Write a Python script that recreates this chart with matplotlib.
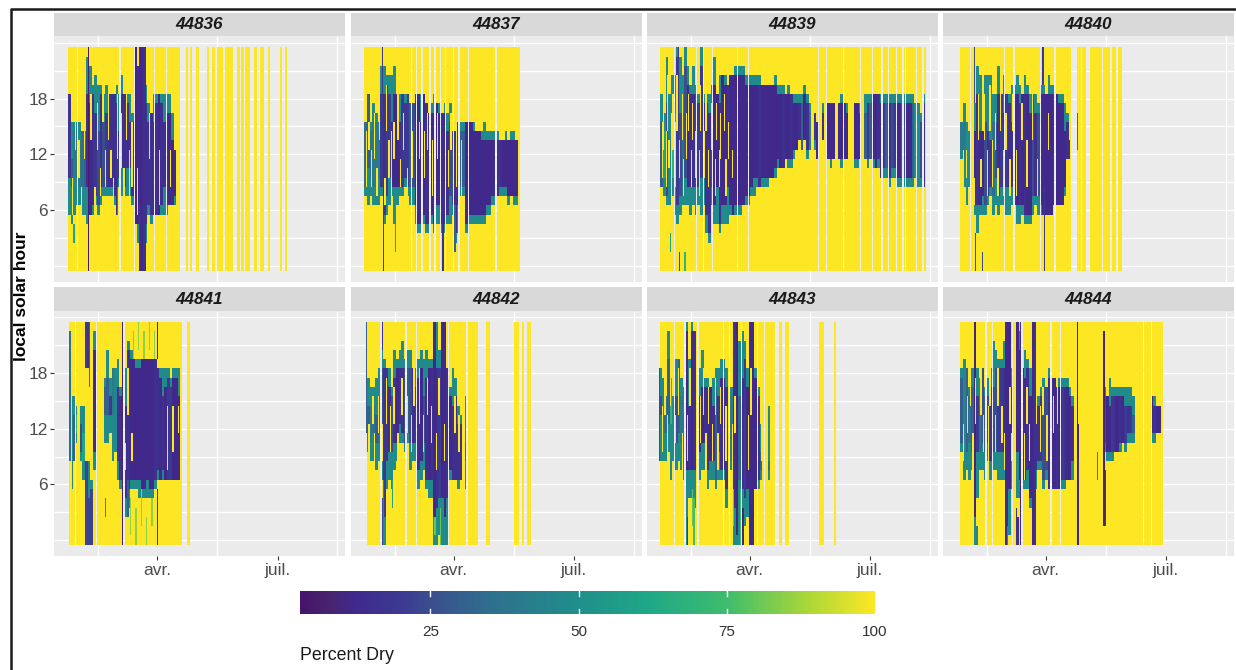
#!/usr/bin/env python3
"""Percent dry by local solar hour and date, one panel per sensor."""

from datetime import date

import matplotlib
matplotlib.use("Agg")
import matplotlib.dates as mdates
import matplotlib.pyplot as plt
import numpy as np
from matplotlib.cm import ScalarMappable
from matplotlib.colors import LinearSegmentedColormap, Normalize
from matplotlib.lines import Line2D

plt.rcParams["font.family"] = ["Liberation Sans", "DejaVu Sans"]

# days are counted from 1 Jan 2022, hours are whole cells 0-23
sensors = ["44836", "44837", "44839", "44840", "44841", "44842", "44843", "44844"]
month_days = [90, 181]
month_labels = ["avr.", "juil."]
hour_ticks = [6, 12, 18]
bar_ticks = [25, 50, 75, 100]

# (first, last) day of each run of recorded days
yellow_44836 = [(23, 107), (112, 113), (115, 116), (120, 121), (128, 129), (132, 133), (136, 139),
                (142, 147), (151, 152), (154, 155), (157, 160), (164, 165), (168, 170), (174, 175),
                (183, 184), (187, 188)]
yellow_44837 = [(23, 140)]
yellow_44839 = [(23, 223)]
yellow_44840 = [(26, 109), (114, 116), (118, 120), (124, 132), (134, 138), (141, 143), (145, 147)]
yellow_44841 = [(24, 108), (113, 114)]
yellow_44842 = [(25, 108), (115, 117), (136, 137), (138, 139), (142, 143), (146, 148)]
yellow_44843 = [(23, 109), (113, 114), (117, 119), (143, 146), (154, 155)]
yellow_44844 = [(26, 178)]

# days with no record inside those runs
gaps_44836 = [30, 62, 73, 88, 97]
gaps_44837 = [58, 62, 66, 72, 76, 80, 84, 90, 94, 101, 122]
gaps_44839 = [33, 50, 55, 62, 81, 89, 142, 148, 161, 174, 183, 190, 195, 201, 206, 208, 216, 221]
gaps_44840 = [33, 59, 66, 86, 97]
gaps_44841 = [28, 44, 65]
gaps_44842 = [35, 54, 62, 86, 100]
gaps_44843 = [33, 41, 51, 70, 75, 84, 96, 101]
gaps_44844 = [45, 50, 65, 72, 94, 101, 164, 170]

# two-day blocks from the first day: (wet low, wet high, core low, core high, core percent)
first_44836 = 23
band_44836 = [
    (6, 18, 10, 18, 18), (5, 15, 9, 11, 30), (6, 15, 10, 14, 40), (7, 15, 10, 14, 40), (7, 15, 9, 13, 40),
    (6, 14, 9, 14, 35), (6, 14, 9, 13, 30), (5, 22, 9, 18, 15), (6, 21, 6, 17, 12), (6, 19, 7, 18, 15),
    (7, 20, 8, 16, 18), (6, 19, 7, 14, 25), (7, 19, 9, 18, 15), (8, 18, 9, 15, 25), (8, 19, 9, 16, 20),
    (8, 18, 9, 18, 15), (8, 18, 9, 18, 15), (7, 18, 8, 18, 15), (6, 19, 9, 17, 18), (9, 18, 10, 14, 20),
    (8, 20, 11, 18, 15), (8, 18, 9, 18, 15), (8, 18, 11, 17, 15), (8, 18, 11, 15, 15), (7, 16, 8, 15, 15),
    (5, 22, 7, 21, 15), (3, 21, 5, 21, 12), (0, 23, 0, 23, 12), (0, 23, 0, 23, 12), (3, 19, 5, 17, 15),
    (6, 17, 7, 15, 15), (5, 16, 6, 16, 15), (6, 18, 6, 15, 15), (6, 18, 6, 17, 15), (6, 18, 6, 18, 12),
    (6, 18, 7, 17, 15), (6, 18, 9, 15, 15), (6, 18, 7, 16, 15), (7, 18, 7, 16, 12), (7, 16, 7, 13, 12),
    (7, 12, 8, 12, 12), None,
]
first_44837 = 23
band_44837 = [
    (8, 15, 9, 15, 35), (7, 18, 11, 18, 30), (8, 15, 10, 14, 35), (7, 17, 9, 15, 40), (7, 16, 9, 15, 40),
    (7, 15, 10, 14, 40), (8, 21, 9, 18, 20), (5, 21, 6, 18, 15), (6, 20, 8, 19, 20), (7, 20, 10, 18, 20),
    (8, 20, 9, 15, 15), (5, 21, 9, 18, 12), (7, 18, 9, 18, 12), (8, 18, 9, 15, 15), (8, 18, 9, 18, 20),
    (9, 18, 10, 17, 20), (8, 18, 9, 18, 20), (7, 16, 9, 17, 30), (7, 17, 9, 17, 25), (5, 18, 7, 18, 12),
    (4, 18, 5, 18, 12), (4, 18, 5, 15, 15), (5, 18, 6, 18, 12), (4, 17, 5, 17, 15), (4, 16, 5, 16, 15),
    (5, 17, 6, 16, 12), (4, 18, 5, 16, 12), (5, 17, 7, 17, 12), (5, 17, 7, 16, 12), (4, 16, 5, 16, 15),
    (4, 17, 5, 16, 12), (5, 16, 6, 14, 15), (5, 17, 8, 15, 25), (6, 14, 7, 14, 25), (3, 14, 4, 14, 15),
    (4, 15, 7, 15, 15), (8, 15, 9, 14, 30), (8, 15, 9, 14, 30), (4, 15, 5, 15, 12), (5, 15, 6, 15, 12),
    (5, 15, 6, 15, 12), (5, 15, 6, 14, 12), (5, 14, 6, 14, 12), (5, 14, 6, 14, 12), (5, 14, 6, 13, 12),
    (5, 15, 6, 13, 12), (6, 14, 7, 13, 12), (6, 14, 7, 13, 12), (7, 14, 8, 13, 12), (7, 14, 8, 13, 15),
    (8, 14, 8, 13, 15), (8, 13, 9, 13, 15), (8, 13, 9, 13, 12), (8, 14, 9, 13, 12), (7, 13, 8, 13, 12),
    (8, 14, 8, 13, 12), (7, 14, 8, 13, 12), (7, 13, 8, 13, 12),
]
first_44839 = 23
band_44839 = [
    (9, 18, 9, 15, 30), (8, 16, 10, 14, 60), (7, 22, 8, 17, 25), (7, 18, 9, 14, 45), (8, 20, 10, 13, 70),
    (6, 20, 8, 16, 60), (5, 23, 7, 22, 20), (6, 22, 8, 16, 25), (7, 20, 8, 16, 35), (7, 23, 10, 21, 25),
    (7, 21, 9, 19, 12), (6, 19, 9, 18, 15), (7, 21, 9, 18, 15), (6, 19, 9, 18, 25), (7, 18, 9, 17, 20),
    (6, 23, 10, 21, 20), (7, 18, 10, 17, 15), (4, 18, 6, 17, 15), (3, 18, 4, 16, 15), (7, 19, 9, 17, 25),
    (5, 22, 7, 19, 12), (5, 18, 9, 18, 12), (4, 20, 5, 17, 15), (5, 20, 7, 20, 12), (5, 20, 7, 19, 12),
    (5, 18, 9, 19, 15), (6, 20, 7, 20, 12), (6, 20, 6, 20, 12), (6, 21, 7, 20, 12), (6, 21, 7, 20, 12),
    (6, 21, 7, 20, 12), (7, 21, 7, 20, 12), (7, 20, 8, 19, 12), (7, 20, 8, 19, 12), (8, 20, 9, 19, 12),
    (8, 20, 10, 19, 12), (9, 20, 10, 19, 12), (9, 20, 9, 19, 15), (9, 19, 10, 19, 12), (9, 19, 10, 19, 12),
    (9, 19, 10, 19, 12), (10, 19, 10, 19, 12), (10, 19, 10, 19, 12), (10, 20, 11, 19, 12), (11, 19, 12, 18, 12),
    (11, 19, 11, 18, 12), (11, 19, 11, 18, 15), (12, 18, 12, 18, 12), (11, 19, 12, 18, 12), (11, 18, 12, 18, 15),
    (12, 18, 13, 17, 12), (13, 18, 13, 17, 12), (14, 18, 14, 17, 15), (13, 18, 13, 17, 30), (14, 19, 14, 18, 12),
    (12, 18, 13, 17, 15), (13, 17, 13, 16, 40), None, (13, 16, 14, 16, 20), (12, 15, 12, 15, 12),
    None, (14, 17, 14, 16, 15), None, (12, 17, 12, 17, 12), (11, 17, 12, 17, 12),
    (12, 17, 12, 17, 12), None, (12, 17, 12, 17, 12), (11, 18, 12, 17, 12), (12, 17, 12, 17, 15),
    (12, 17, 12, 16, 12), None, None, (11, 17, 12, 17, 12), (11, 17, 12, 17, 12),
    (12, 17, 12, 16, 15), None, (12, 18, 12, 16, 30), (11, 18, 12, 17, 20), (12, 18, 12, 17, 30),
    (11, 18, 12, 18, 12), (11, 18, 11, 18, 12), (11, 18, 12, 18, 15), (10, 18, 10, 17, 15), (10, 18, 11, 17, 20),
    (10, 18, 11, 17, 30), (9, 18, 10, 17, 15), (10, 18, 11, 17, 25), (10, 18, 11, 17, 20), (9, 18, 10, 17, 12),
    (9, 18, 10, 17, 12), (9, 18, 10, 17, 30), (9, 18, 10, 17, 25), (9, 18, 10, 17, 12), (9, 18, 10, 17, 12),
    (9, 18, 10, 17, 30), (10, 17, 13, 16, 50), (9, 17, 10, 15, 50), (9, 16, 10, 15, 25), (9, 18, 9, 17, 20),
]
first_44840 = 26
band_44840 = [
    (12, 15, 13, 15, 40), (9, 17, 12, 15, 40), (7, 15, 12, 14, 50), (9, 14, 14, 13, 50), None,
    (6, 17, 7, 14, 12), (4, 21, 7, 18, 15), (6, 20, 7, 14, 12), (6, 14, 8, 14, 12), (6, 20, 7, 15, 25),
    (7, 20, 8, 14, 15), (8, 20, 9, 13, 20), (6, 18, 8, 15, 35), (7, 18, 10, 15, 25), (6, 21, 8, 18, 15),
    (7, 18, 9, 18, 20), (7, 20, 9, 16, 15), (6, 18, 9, 18, 20), (6, 18, 9, 17, 15), (7, 19, 9, 15, 15),
    (7, 19, 7, 18, 15), (5, 20, 7, 18, 12), (5, 19, 7, 17, 15), (6, 18, 7, 18, 12), (5, 20, 6, 18, 15),
    (5, 19, 6, 18, 12), (5, 18, 6, 16, 12), (6, 18, 8, 18, 25), (7, 18, 8, 16, 15), (6, 17, 8, 16, 25),
    (6, 19, 7, 18, 15), (6, 19, 6, 18, 12), (6, 18, 6, 18, 12), (6, 20, 6, 18, 12), (6, 19, 6, 18, 12),
    (7, 19, 7, 18, 15), (7, 18, 7, 18, 12), (7, 18, 7, 17, 12), (7, 18, 7, 17, 12), (8, 17, 9, 14, 12),
    (12, 16, 12, 15, 15), None,
]
first_44841 = 24
band_44841 = [
    None, (9, 15, 11, 14, 50), (11, 14, 12, 13, 70), None, (9, 14, 10, 12, 25),
    (7, 14, 9, 11, 60), (0, 8, 0, 8, 22), (0, 8, 0, 4, 22), (0, 6, 0, 5, 22), (8, 22, 10, 20, 12),
    None, None, None, (11, 17, 14, 16, 30), (11, 20, 14, 17, 30),
    (12, 17, 14, 15, 20), (9, 18, 14, 18, 40), (10, 18, 12, 17, 45), (7, 19, 9, 16, 18), (6, 16, 7, 15, 15),
    (0, 23, 0, 23, 10), (3, 18, 5, 14, 15), (4, 21, 6, 20, 15), (6, 20, 7, 19, 12), (6, 19, 7, 19, 12),
    (6, 19, 7, 18, 12), (5, 19, 7, 18, 12), (5, 19, 6, 19, 12), (5, 19, 6, 19, 12), (5, 19, 7, 19, 12),
    (5, 19, 6, 19, 12), (5, 19, 6, 19, 12), (6, 19, 7, 19, 15), (7, 18, 8, 18, 15), (7, 18, 7, 17, 12),
    (7, 18, 8, 15, 15), (7, 18, 7, 16, 12), (7, 18, 7, 17, 20), (7, 17, 7, 16, 20), (7, 18, 7, 17, 12),
    (7, 18, 7, 17, 12), (7, 18, 7, 15, 12),
]
first_44842 = 25
band_44842 = [
    (10, 17, 12, 14, 30), (9, 16, 11, 14, 40), (9, 16, 12, 14, 35), (8, 17, 11, 13, 30), (9, 18, 11, 15, 35),
    (7, 23, 10, 18, 25), (0, 19, 7, 18, 18), (6, 18, 9, 18, 18), (7, 18, 10, 16, 15), (6, 16, 10, 15, 25),
    (8, 20, 11, 17, 15), (9, 19, 11, 18, 12), (11, 20, 13, 18, 15), (11, 21, 12, 18, 15), (10, 19, 11, 18, 25),
    (11, 20, 12, 18, 30), (8, 20, 11, 18, 25), (9, 18, 11, 18, 15), (9, 18, 11, 16, 20), (6, 19, 8, 17, 15),
    (7, 20, 9, 18, 12), (8, 19, 11, 15, 25), (6, 20, 7, 17, 15), (5, 19, 7, 18, 12), (5, 19, 7, 18, 15),
    (0, 23, 3, 23, 12), (0, 23, 4, 18, 15), (1, 20, 5, 18, 20), (0, 23, 5, 23, 12), (0, 23, 3, 23, 12),
    (0, 18, 5, 18, 15), (7, 16, 8, 15, 12), (7, 18, 7, 14, 15), (7, 17, 7, 15, 15), (6, 14, 7, 12, 15),
    (7, 13, 7, 12, 15), None, (6, 15, 9, 10, 30),
]
first_44843 = 22
band_44843 = [
    (9, 18, 14, 15, 25), (9, 17, 12, 17, 45), (9, 15, 12, 15, 35), (10, 22, 13, 19, 30), (7, 17, 13, 17, 70),
    (9, 15, 16, 15, 70), (8, 19, 11, 15, 25), (9, 19, 12, 19, 30), (8, 17, 11, 15, 40), (7, 16, 10, 13, 40),
    (0, 23, 8, 22, 12), (5, 19, 8, 14, 15), (5, 23, 8, 22, 12), (4, 22, 8, 22, 15), None,
    (7, 18, 10, 15, 15), (8, 20, 11, 16, 12), (8, 17, 11, 16, 15), (6, 17, 8, 16, 15), (7, 16, 9, 16, 12),
    (7, 17, 9, 14, 15), (6, 18, 7, 16, 30), (7, 18, 10, 15, 20), (7, 19, 8, 17, 15), (7, 19, 8, 17, 15),
    (4, 18, 6, 16, 15), None, (8, 16, 9, 15, 40), (0, 23, 4, 23, 15), (0, 23, 1, 23, 10),
    (0, 21, 7, 15, 30), (2, 22, 6, 17, 15), (2, 21, 5, 19, 20), (3, 18, 6, 16, 12), (0, 23, 0, 23, 12),
    (0, 23, 0, 23, 12), (6, 18, 6, 17, 12), (6, 16, 7, 15, 15), (7, 12, 8, 9, 30), None,
    None, (7, 14, 8, 8, 35), None,
]
first_44844 = 26
band_44844 = [
    (10, 18, 11, 17, 30), (7, 19, 11, 18, 45), (8, 17, 10, 18, 30), (7, 16, 11, 15, 35), (8, 18, 10, 16, 30),
    (0, 22, 3, 23, 10), (5, 18, 10, 15, 20), (8, 17, 10, 14, 35), (8, 18, 11, 18, 25), (7, 16, 10, 15, 30),
    (9, 17, 11, 15, 25), (7, 18, 9, 16, 20), (8, 21, 10, 16, 25), (8, 20, 10, 18, 25), (7, 19, 10, 18, 20),
    (7, 19, 10, 18, 20), (7, 21, 10, 18, 15), (0, 23, 2, 23, 12), (1, 21, 6, 23, 12), (6, 18, 10, 16, 15),
    None, (5, 23, 10, 23, 12), (5, 22, 7, 20, 12), (6, 18, 7, 18, 15), (6, 20, 7, 17, 12),
    (6, 19, 8, 18, 15), (4, 18, 5, 15, 12), (0, 23, 0, 23, 12), (6, 16, 8, 14, 15), (8, 15, 9, 14, 15),
    (8, 16, 9, 15, 20), (6, 17, 7, 16, 25), (7, 16, 8, 16, 25), (6, 18, 6, 17, 15), (6, 17, 6, 17, 15),
    (6, 17, 6, 17, 12), (6, 16, 6, 16, 15), (6, 17, 6, 16, 12), (6, 17, 7, 16, 20), (6, 17, 7, 16, 15),
    (7, 17, 7, 16, 12), (7, 16, 7, 15, 12), (7, 15, 9, 14, 15), None, (0, 12, 0, 12, 12),
    None, None, None, None, None,
    None, None, None, None, (10, 16, 11, 15, 25),
    (9, 15, 10, 15, 12), (9, 17, 10, 14, 12), (9, 16, 10, 15, 20), (10, 16, 10, 15, 15), (10, 16, 10, 15, 12),
    (10, 16, 11, 15, 15), (11, 16, 11, 15, 12), (10, 16, 11, 14, 20), (11, 16, 12, 14, 15), (11, 16, 12, 14, 20),
    (11, 15, 12, 13, 30), None, None, None, None,
    None, None, (11, 14, 12, 15, 12), (11, 15, 12, 14, 15), (12, 14, 12, 14, 12),
    (12, 14, 12, 14, 12),
]

# dry slits cut through the bands: (day, low hour, high hour)
slits_44836 = [(26, 6, 9), (28, 13, 15), (31, 10, 13), (33, 6, 8), (35, 12, 14), (40, 14, 18), (43, 6, 8),
               (45, 13, 17), (47, 8, 10), (49, 16, 18), (51, 9, 12), (53, 14, 18), (55, 10, 12), (57, 7, 9),
               (60, 12, 18), (63, 11, 16), (65, 8, 10), (67, 14, 18), (69, 8, 12), (71, 9, 15), (75, 6, 10),
               (84, 12, 16), (92, 7, 12), (100, 9, 12)]
slits_44837 = [(24, 9, 14), (26, 13, 15), (28, 9, 12), (30, 12, 16), (32, 8, 10), (34, 14, 17), (38, 7, 9),
               (39, 15, 19), (41, 10, 13), (43, 8, 14), (45, 12, 15), (48, 14, 18), (50, 9, 11), (52, 13, 16),
               (55, 8, 10), (59, 10, 14), (64, 12, 15), (68, 10, 14), (70, 13, 16), (74, 8, 13), (78, 12, 16),
               (86, 9, 12), (88, 13, 16), (92, 9, 15), (96, 7, 13)]
slits_44839 = [(24, 10, 15), (25, 13, 18), (27, 9, 14), (28, 15, 20), (29, 11, 13), (31, 8, 16), (32, 13, 18),
               (34, 9, 15), (35, 15, 20), (37, 10, 13), (39, 14, 18), (40, 8, 11), (42, 12, 16), (44, 15, 18),
               (46, 9, 12), (47, 14, 17), (49, 10, 14), (52, 8, 12), (53, 15, 19), (56, 10, 14), (57, 15, 18),
               (59, 9, 12), (61, 13, 17), (64, 8, 11), (65, 14, 17), (67, 9, 12), (68, 12, 16), (71, 15, 18),
               (72, 8, 11), (74, 12, 15), (77, 10, 12)]
slits_44840 = [(28, 9, 12), (30, 10, 12), (36, 7, 9), (39, 14, 18), (41, 9, 11), (44, 14, 18), (46, 8, 12),
               (48, 15, 19), (50, 9, 13), (52, 13, 16), (54, 8, 10), (56, 15, 18), (58, 8, 12), (60, 13, 16),
               (63, 8, 11), (65, 15, 18), (68, 8, 12), (72, 14, 17), (76, 9, 13), (80, 14, 18), (84, 8, 11),
               (92, 13, 16)]
slits_44841 = [(66, 8, 10), (68, 14, 18), (71, 9, 11), (98, 8, 14), (102, 10, 14), (106, 12, 14)]
slits_44842 = [(26, 10, 12), (29, 13, 15), (30, 9, 11), (33, 12, 15), (36, 9, 12), (39, 13, 17), (42, 10, 14),
               (45, 13, 16), (48, 9, 11), (51, 14, 17), (55, 12, 15), (58, 10, 13), (60, 15, 18), (64, 13, 18),
               (67, 10, 13), (70, 14, 17), (73, 11, 14), (77, 8, 11), (79, 14, 17), (83, 9, 12), (91, 12, 15),
               (94, 10, 13)]
slits_44843 = [(24, 10, 14), (26, 14, 17), (28, 9, 13), (30, 15, 19), (34, 11, 13), (36, 14, 18), (39, 8, 11),
               (43, 9, 13), (45, 15, 18), (53, 11, 15), (55, 14, 18), (57, 8, 11), (59, 13, 16), (62, 9, 12),
               (64, 14, 17), (66, 8, 11), (68, 13, 16), (72, 9, 14), (74, 13, 16), (77, 8, 12), (79, 12, 15),
               (89, 8, 13), (91, 14, 18), (99, 9, 13)]
slits_44844 = [(28, 9, 12), (31, 12, 15), (33, 15, 18), (35, 8, 11), (37, 13, 17), (41, 14, 17), (43, 10, 13),
               (47, 9, 14), (48, 15, 18), (52, 10, 13), (54, 15, 18), (57, 11, 14), (59, 8, 11), (63, 13, 16),
               (64, 9, 11), (67, 13, 18), (74, 7, 11), (76, 13, 16), (78, 9, 12), (83, 13, 17), (86, 10, 14),
               (88, 14, 16), (91, 9, 13), (96, 12, 15), (99, 13, 16)]

# single days that stand out: (day, low hour, high hour, percent)
spikes_44836 = [(38, 0, 23, 6), (74, 5, 23, 10), (77, 0, 6, 15), (80, 0, 23, 15), (81, 0, 23, 15),
                (59, 6, 9, 15), (27, 3, 4, 60)]
spikes_44837 = [(36, 19, 23, 20), (37, 0, 5, 20), (46, 2, 4, 60), (82, 0, 8, 15), (91, 2, 6, 30)]
spikes_44839 = [(37, 0, 1, 20), (30, 2, 3, 60), (41, 0, 1, 70), (36, 23, 23, 20), (59, 5, 7, 15)]
spikes_44840 = [(36, 18, 23, 25), (37, 0, 3, 25), (42, 0, 1, 25), (88, 20, 23, 20), (89, 0, 8, 20),
                (108, 12, 13, 15), (114, 13, 16, 40)]
spikes_44841 = [(24, 9, 22, 35), (26, 6, 14, 45), (27, 9, 13, 30), (36, 19, 23, 18), (37, 19, 23, 18),
                (38, 19, 23, 18), (39, 17, 23, 30), (64, 0, 23, 8), (90, 20, 23, 8), (90, 0, 5, 15),
                (51, 3, 4, 50), (68, 3, 6, 30), (70, 1, 4, 85), (72, 20, 22, 85), (74, 0, 3, 85),
                (76, 21, 23, 85), (78, 2, 5, 85), (80, 20, 22, 85), (82, 0, 2, 85), (84, 21, 23, 85),
                (86, 2, 4, 85), (88, 20, 22, 85)]
spikes_44842 = [(24, 12, 23, 30), (36, 0, 4, 25), (36, 21, 23, 15), (38, 3, 6, 20), (44, 4, 6, 60),
                (76, 1, 2, 80), (80, 0, 3, 80)]
spikes_44843 = [(43, 0, 2, 20), (85, 0, 3, 10), (47, 2, 5, 80), (48, 0, 4, 75), (22, 9, 18, 25),
                (78, 2, 5, 80), (83, 0, 5, 75)]
spikes_44844 = [(60, 0, 23, 12), (68, 0, 3, 15), (69, 0, 2, 15), (71, 0, 23, 12), (82, 0, 23, 15),
                (114, 0, 23, 5), (134, 2, 22, 8), (135, 2, 7, 20), (38, 0, 1, 45), (129, 7, 9, 40)]

first_days = [first_44836, first_44837, first_44839, first_44840,
              first_44841, first_44842, first_44843, first_44844]
bands = [band_44836, band_44837, band_44839, band_44840,
         band_44841, band_44842, band_44843, band_44844]
yellows = [yellow_44836, yellow_44837, yellow_44839, yellow_44840,
           yellow_44841, yellow_44842, yellow_44843, yellow_44844]
gaps = [gaps_44836, gaps_44837, gaps_44839, gaps_44840,
        gaps_44841, gaps_44842, gaps_44843, gaps_44844]
slits = [slits_44836, slits_44837, slits_44839, slits_44840,
         slits_44841, slits_44842, slits_44843, slits_44844]
spikes = [spikes_44836, spikes_44837, spikes_44839, spikes_44840,
          spikes_44841, spikes_44842, spikes_44843, spikes_44844]

FIG_W, FIG_H = 1236, 670
PCT_MIN, PCT_MAX = 3, 100
FRINGE_PCT = 48
N_DAYS = 240
BASE = mdates.date2num(date(2022, 1, 1))

# viridis as it looks in the scanned figure, bluer in the low range
stop_pcts = [3, 8, 12, 20, 25, 35, 50, 62, 75, 88, 100]
stop_colors = ["#46146B", "#47246F", "#40298C", "#3C3A92", "#3A4E8E", "#2F6F8E", "#1F8F8B",
               "#1FA887", "#3EBC6E", "#A5D63B", "#FDE725"]
DRY_CMAP = LinearSegmentedColormap.from_list(
    "dry", [((p - PCT_MIN) / (PCT_MAX - PCT_MIN), c) for p, c in zip(stop_pcts, stop_colors)]
)


def px_axes(fig, left, top, right, bottom, **kw):
    """Axes placed by picture pixels, y counted from the top."""
    return fig.add_axes(
        [left / FIG_W, 1 - bottom / FIG_H, (right - left) / FIG_W, (bottom - top) / FIG_H], **kw
    )


def build_grid(first, band, yellow, gap, slit, spike):
    grid = np.full((24, N_DAYS), np.nan)
    for a, b in yellow:
        grid[:, a : b + 1] = 100.0
    for i, row in enumerate(band):
        if row is None:
            continue
        lo, hi, core_lo, core_hi, pct = row
        d0 = first + 2 * i
        grid[lo : hi + 1, d0 : d0 + 2] = FRINGE_PCT
        if core_lo <= core_hi:
            grid[core_lo : core_hi + 1, d0 : d0 + 2] = pct
    for d, lo, hi in slit:
        grid[lo : hi + 1, d] = 100.0
    for d, lo, hi, pct in spike:
        grid[lo : hi + 1, d] = pct
    grid[:, gap] = np.nan
    return grid


def draw_panel(ax, grid, show_x, show_y):
    ax.set_facecolor("#EBEBEB")
    for s in ax.spines.values():
        s.set_visible(False)
    ax.set_axisbelow(True)
    ax.hlines(np.arange(0, 25, 3), BASE + 12, BASE + 232, color="white", lw=1.0, zorder=0.5)
    ax.vlines(BASE + np.array([45.5, 135.5, 226]), -1.7, 24.7, color="white", lw=1.0, zorder=0.5)
    x_edges = BASE + np.arange(N_DAYS + 1) - 0.5
    y_edges = np.arange(25) - 0.5
    ax.pcolormesh(
        x_edges, y_edges, np.ma.masked_invalid(grid),
        cmap=DRY_CMAP, vmin=PCT_MIN, vmax=PCT_MAX, shading="flat", linewidth=0, zorder=1,
    )
    ax.set_xlim(BASE + 12, BASE + 232)
    ax.set_ylim(-1.7, 24.7)
    ax.set_xticks(BASE + np.array(month_days))
    ax.set_xticklabels(month_labels if show_x else [])
    ax.set_yticks(hour_ticks)
    ax.set_yticklabels([str(h) for h in hour_ticks] if show_y else [])
    ax.tick_params(axis="x", length=3 if show_x else 0, color="#333333", labelcolor="#4D4D4D",
                   labelsize=12.5, pad=2, width=0.8)
    ax.tick_params(axis="y", length=3 if show_y else 0, color="#333333", labelcolor="#4D4D4D",
                   labelsize=12.5, pad=1.5, width=0.8)


def draw_strip(fig, box, label):
    ax = px_axes(fig, *box, facecolor="#D9D9D9")
    ax.set_xticks([])
    ax.set_yticks([])
    for s in ax.spines.values():
        s.set_visible(False)
    ax.text(0.5, 0.5, label, transform=ax.transAxes, ha="center", va="center",
            fontsize=12.3, fontweight="bold", fontstyle="italic", color="#1A1A1A")


def draw_colorbar(fig):
    cax = px_axes(fig, 300, 591, 875, 614)
    sm = ScalarMappable(norm=Normalize(PCT_MIN, PCT_MAX), cmap=DRY_CMAP)
    cb = fig.colorbar(sm, cax=cax, orientation="horizontal")
    cb.outline.set_visible(False)
    cb.set_ticks(bar_ticks)
    cax.tick_params(length=0, labelsize=11, labelcolor="#333333", pad=8)
    for v in bar_ticks[:-1]:
        cax.plot([v, v], [0, 0.2], color="white", lw=1, transform=cax.get_xaxis_transform())
        cax.plot([v, v], [0.8, 1], color="white", lw=1, transform=cax.get_xaxis_transform())
    fig.text(300 / FIG_W, 1 - 656 / FIG_H, "Percent Dry", fontsize=12.8, color="#1A1A1A",
             ha="left", va="center")


def main():
    fig = plt.figure(figsize=(FIG_W / 100, FIG_H / 100), dpi=100, facecolor="white")
    lefts = [54, 350.5, 646.5, 942.5]
    rows = [(12.7, 36.3, 281.7), (287, 311, 555.7)]
    for i, name in enumerate(sensors):
        r, c = divmod(i, 4)
        strip_top, top, bottom = rows[r]
        left = lefts[c]
        ax = px_axes(fig, left, top, left + 291, bottom)
        grid = build_grid(first_days[i], bands[i], yellows[i], gaps[i], slits[i], spikes[i])
        draw_panel(ax, grid, show_x=r == 1, show_y=c == 0)
        draw_strip(fig, (left, strip_top, left + 291, top), name)
    draw_colorbar(fig)
    fig.text(22 / FIG_W, 1 - 296 / FIG_H, "local solar hour", rotation=90, fontsize=12.5,
             fontweight="bold", ha="center", va="center", color="black")
    # frame of the pasted figure: top and left edges only
    fig.add_artist(Line2D([11 / FIG_W, 11 / FIG_W, 1], [0, 1 - 9 / FIG_H, 1 - 9 / FIG_H],
                          color="#1A1A1A", lw=1.8, transform=fig.transFigure))
    fig.savefig("out.png", dpi=100)
    plt.close(fig)


if __name__ == "__main__":
    main()
